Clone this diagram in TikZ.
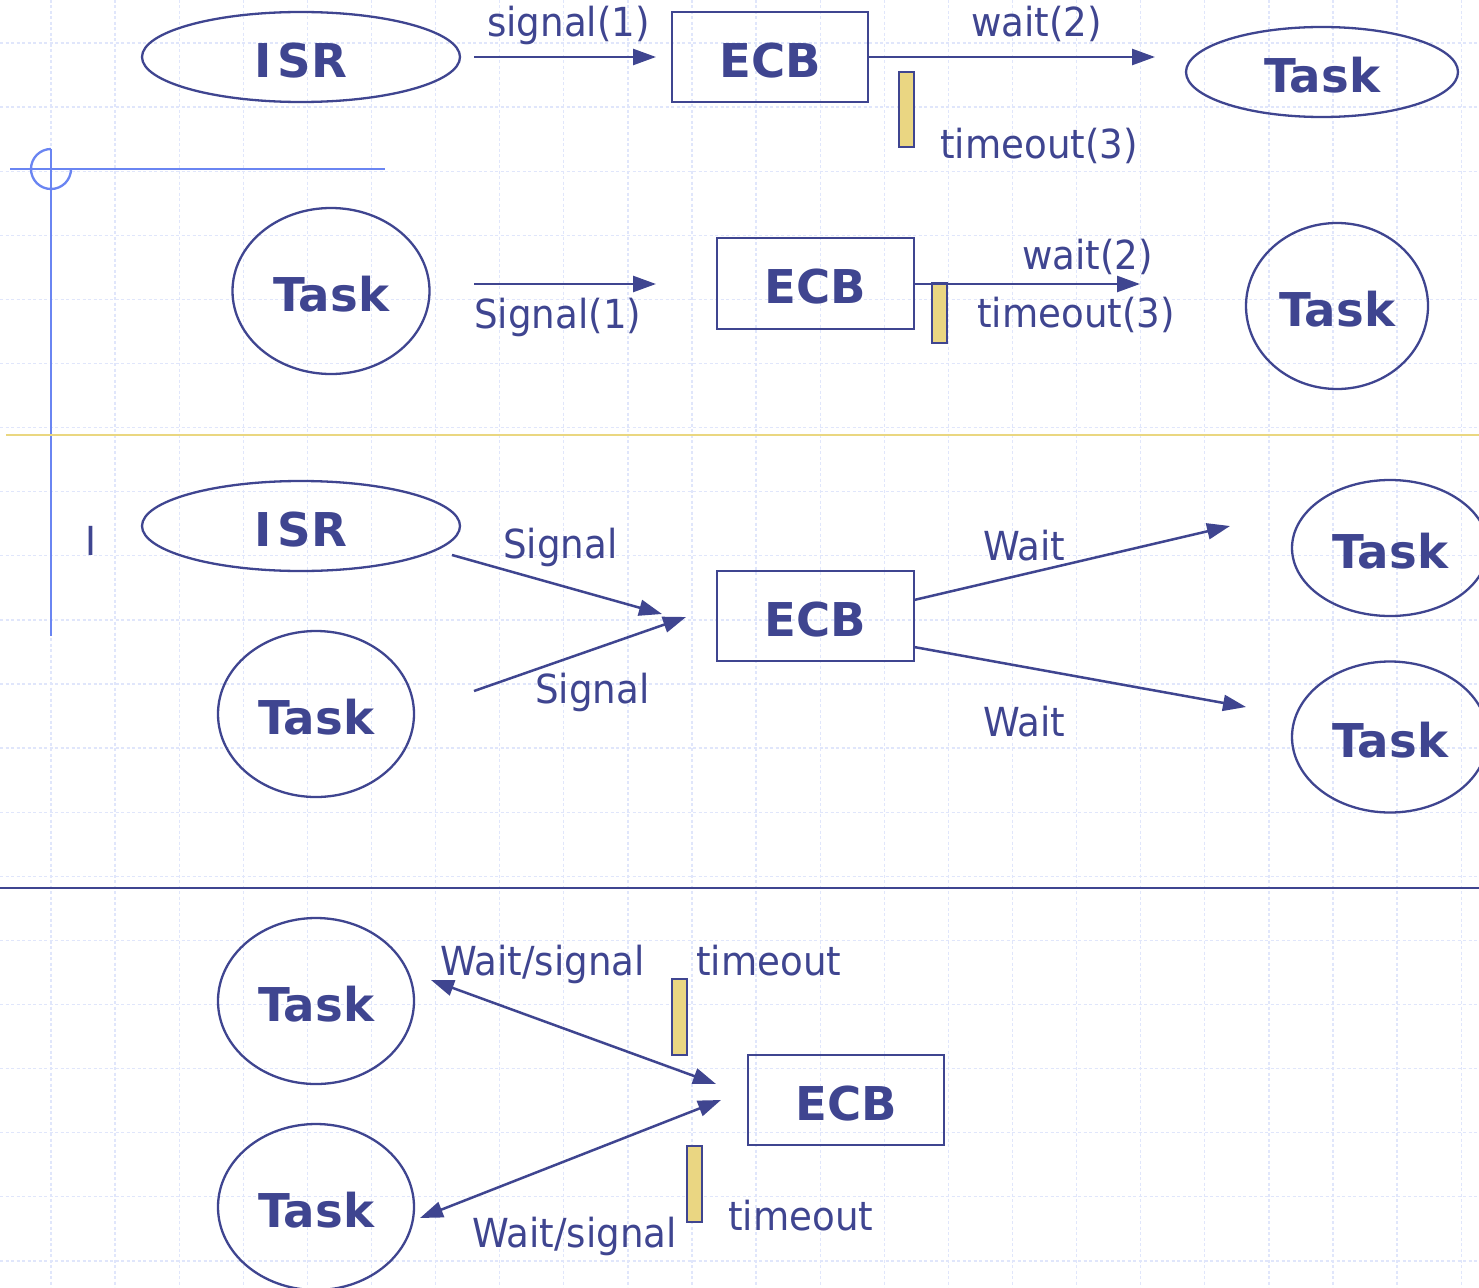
\documentclass[tikz,border=0pt]{standalone}
\usepackage{fontspec}
\setmainfont{DejaVu Sans}
\newfontfamily\labfam[FakeStretch=0.93]{DejaVu Sans}
\usetikzlibrary{shapes.geometric,arrows.meta}
\definecolor{ink}{RGB}{63,69,144}
\definecolor{gridc}{RGB}{224,230,251}
\definecolor{lblue}{RGB}{106,133,242}
\definecolor{lyellow}{RGB}{234,215,128}
\definecolor{barfill}{RGB}{234,214,130}
\newcommand\bigtxt{\fontsize{46.6}{50}\selectfont\bfseries}
\newcommand\labtxt{\labfam\fontsize{40}{44}\selectfont}
\newcommand\bt[1]{\raisebox{-3pt}[\height][0pt]{#1}}
\begin{document}
\begin{tikzpicture}[x=1pt,y=-1pt,
  oval/.style={draw=ink, line width=2.3pt, ellipse, inner sep=0pt, font=\bigtxt, text=ink},
  ecb/.style={draw=ink, line width=2.2pt, rectangle, minimum width=196pt, minimum height=90pt, inner sep=0pt, font=\bigtxt, text=ink},
  lab/.style={font=\labtxt, text=ink, inner sep=0pt, anchor=base west},
  bar/.style={draw=ink, fill=barfill, line width=2pt, minimum width=15pt, inner sep=0pt},
  tip/.tip={Triangle[length=23pt,width=16pt]},
  conn/.style={draw=ink, line width=2.5pt, -tip},
  dconn/.style={draw=ink, line width=2.5pt, tip-tip},
  gridline/.style={draw=gridc, line width=1.3pt, dash pattern=on 3pt off 2.5pt},
]
\useasboundingbox (0,0) rectangle (1479,1287);
\clip (0,0) rectangle (1479,1287);
\fill[white] (0,0) rectangle (1479,1287);
% grid
\foreach \i in {0,...,22} \draw[gridline] ({51+64.1*\i},0) -- ++(0,1287);
\foreach \j in {0,...,19} \draw[gridline] (0,{43+64.1*\j}) -- ++(1479,0);

% separators
\draw[lblue, line width=2.3pt] (10,169) -- (385,169);
\draw[lblue, line width=2.3pt] (51,149) -- (51,636);
\draw[lblue, line width=2.3pt] (51,149) arc[start angle=270, end angle=0, radius=20];
\draw[lyellow, line width=2.3pt] (6,435) -- (1479,435);
\draw[ink, line width=2.3pt] (0,888) -- (1479,888);

% ---------- row 1
\node[oval, minimum width=318pt, minimum height=90pt] (isr1) at (301,57) {\bt{I\kern6pt SR}};
\node[ecb] (ecb1) at (770,57) {\bt{ECB}};
\node[oval, minimum width=272pt, minimum height=90pt] (task1) at (1322,72) {\bt{Task}};
\node[bar, minimum height=75pt] (bar1) at (906,109.5) {};
\coordinate (s1a) at (474,57);
\coordinate (s1b) at (656,57);
\coordinate (w1b) at (1155,57);
\draw[conn] (s1a) -- (s1b);
\draw[conn] (ecb1.east) -- (w1b);
\node[lab] (l1a) at (487,37) {signal(1)};
\node[lab] (l1b) at (971,37) {wait(2)};
\node[lab] (l1c) at (940,158) {timeout(3)};

% ---------- row 2
\node[oval, minimum width=197pt, minimum height=166pt] (task2) at (331,291) {\bt{Task}};
\node[ecb, minimum width=197pt, minimum height=91pt] (ecb2) at (815.5,283.5) {\bt{ECB}};
\node[oval, minimum width=182pt, minimum height=166pt] (task3) at (1337,306) {\bt{Task}};
\node[bar, minimum height=60pt] (bar2) at (939,313) {};
\coordinate (s2a) at (474,284);
\coordinate (s2b) at (656,284);
\coordinate (w2b) at (1140,284);
\draw[conn] (s2a) -- (s2b);
\draw[conn] (ecb2.east |- w2b) -- (w2b);
\node[lab] (l2a) at (474,328) {Signal(1)};
\node[lab] (l2b) at (1022,269) {wait(2)};
\node[lab] (l2c) at (977,327) {timeout(3)};

% ---------- row 3
\node[lab, anchor=base] (cur) at (91,555) {I};
\node[oval, minimum width=318pt, minimum height=90pt] (isr3) at (301,526) {\bt{I\kern6pt SR}};
\node[oval, minimum width=196pt, minimum height=166pt] (task4) at (316,714) {\bt{Task}};
\node[ecb, minimum width=197pt] (ecb3) at (815.5,616) {\bt{ECB}};
\node[oval, minimum width=196pt, minimum height=136pt] (task5) at (1390,548) {\bt{Task}};
\node[oval, minimum width=196pt, minimum height=151pt] (task6) at (1390,737) {\bt{Task}};
\coordinate (s3a) at (452,555);
\coordinate (s3b) at (662,614);
\coordinate (s3c) at (474,691);
\coordinate (s3d) at (686,617);
\coordinate (w3a) at (914,600);
\coordinate (w3b) at (1230,526);
\coordinate (w3c) at (914,647);
\coordinate (w3d) at (1246,707);
\draw[conn] (s3a) -- (s3b);
\draw[conn] (s3c) -- (s3d);
\draw[conn] (w3a) -- (w3b);
\draw[conn] (w3c) -- (w3d);
\node[lab] (l3a) at (503,558) {Signal};
\node[lab] (l3b) at (535,703) {Signal};
\node[lab] (l3c) at (983,560) {Wait};
\node[lab] (l3d) at (983,736) {Wait};

% ---------- row 4
\node[oval, minimum width=196pt, minimum height=166pt] (task7) at (316,1001) {\bt{Task}};
\node[oval, minimum width=196pt, minimum height=166pt] (task8) at (316,1207) {\bt{Task}};
\node[ecb] (ecb4) at (846,1100) {\bt{ECB}};
\node[bar, minimum height=76pt] (bar3) at (679.5,1017) {};
\node[bar, minimum height=76pt] (bar4) at (694.5,1184) {};
\coordinate (d1a) at (431,980);
\coordinate (d1b) at (716,1084);
\coordinate (d2a) at (420,1218);
\coordinate (d2b) at (721,1100);
\draw[dconn] (d1a) -- (d1b);
\draw[dconn] (d2a) -- (d2b);
\node[lab] (l4a) at (440,975) {Wait/signal};
\node[lab] (l4b) at (696,975) {timeout};
\node[lab] (l4c) at (472,1247) {Wait/signal};
\node[lab] (l4d) at (728,1230) {timeout};
\end{tikzpicture}
\end{document}
